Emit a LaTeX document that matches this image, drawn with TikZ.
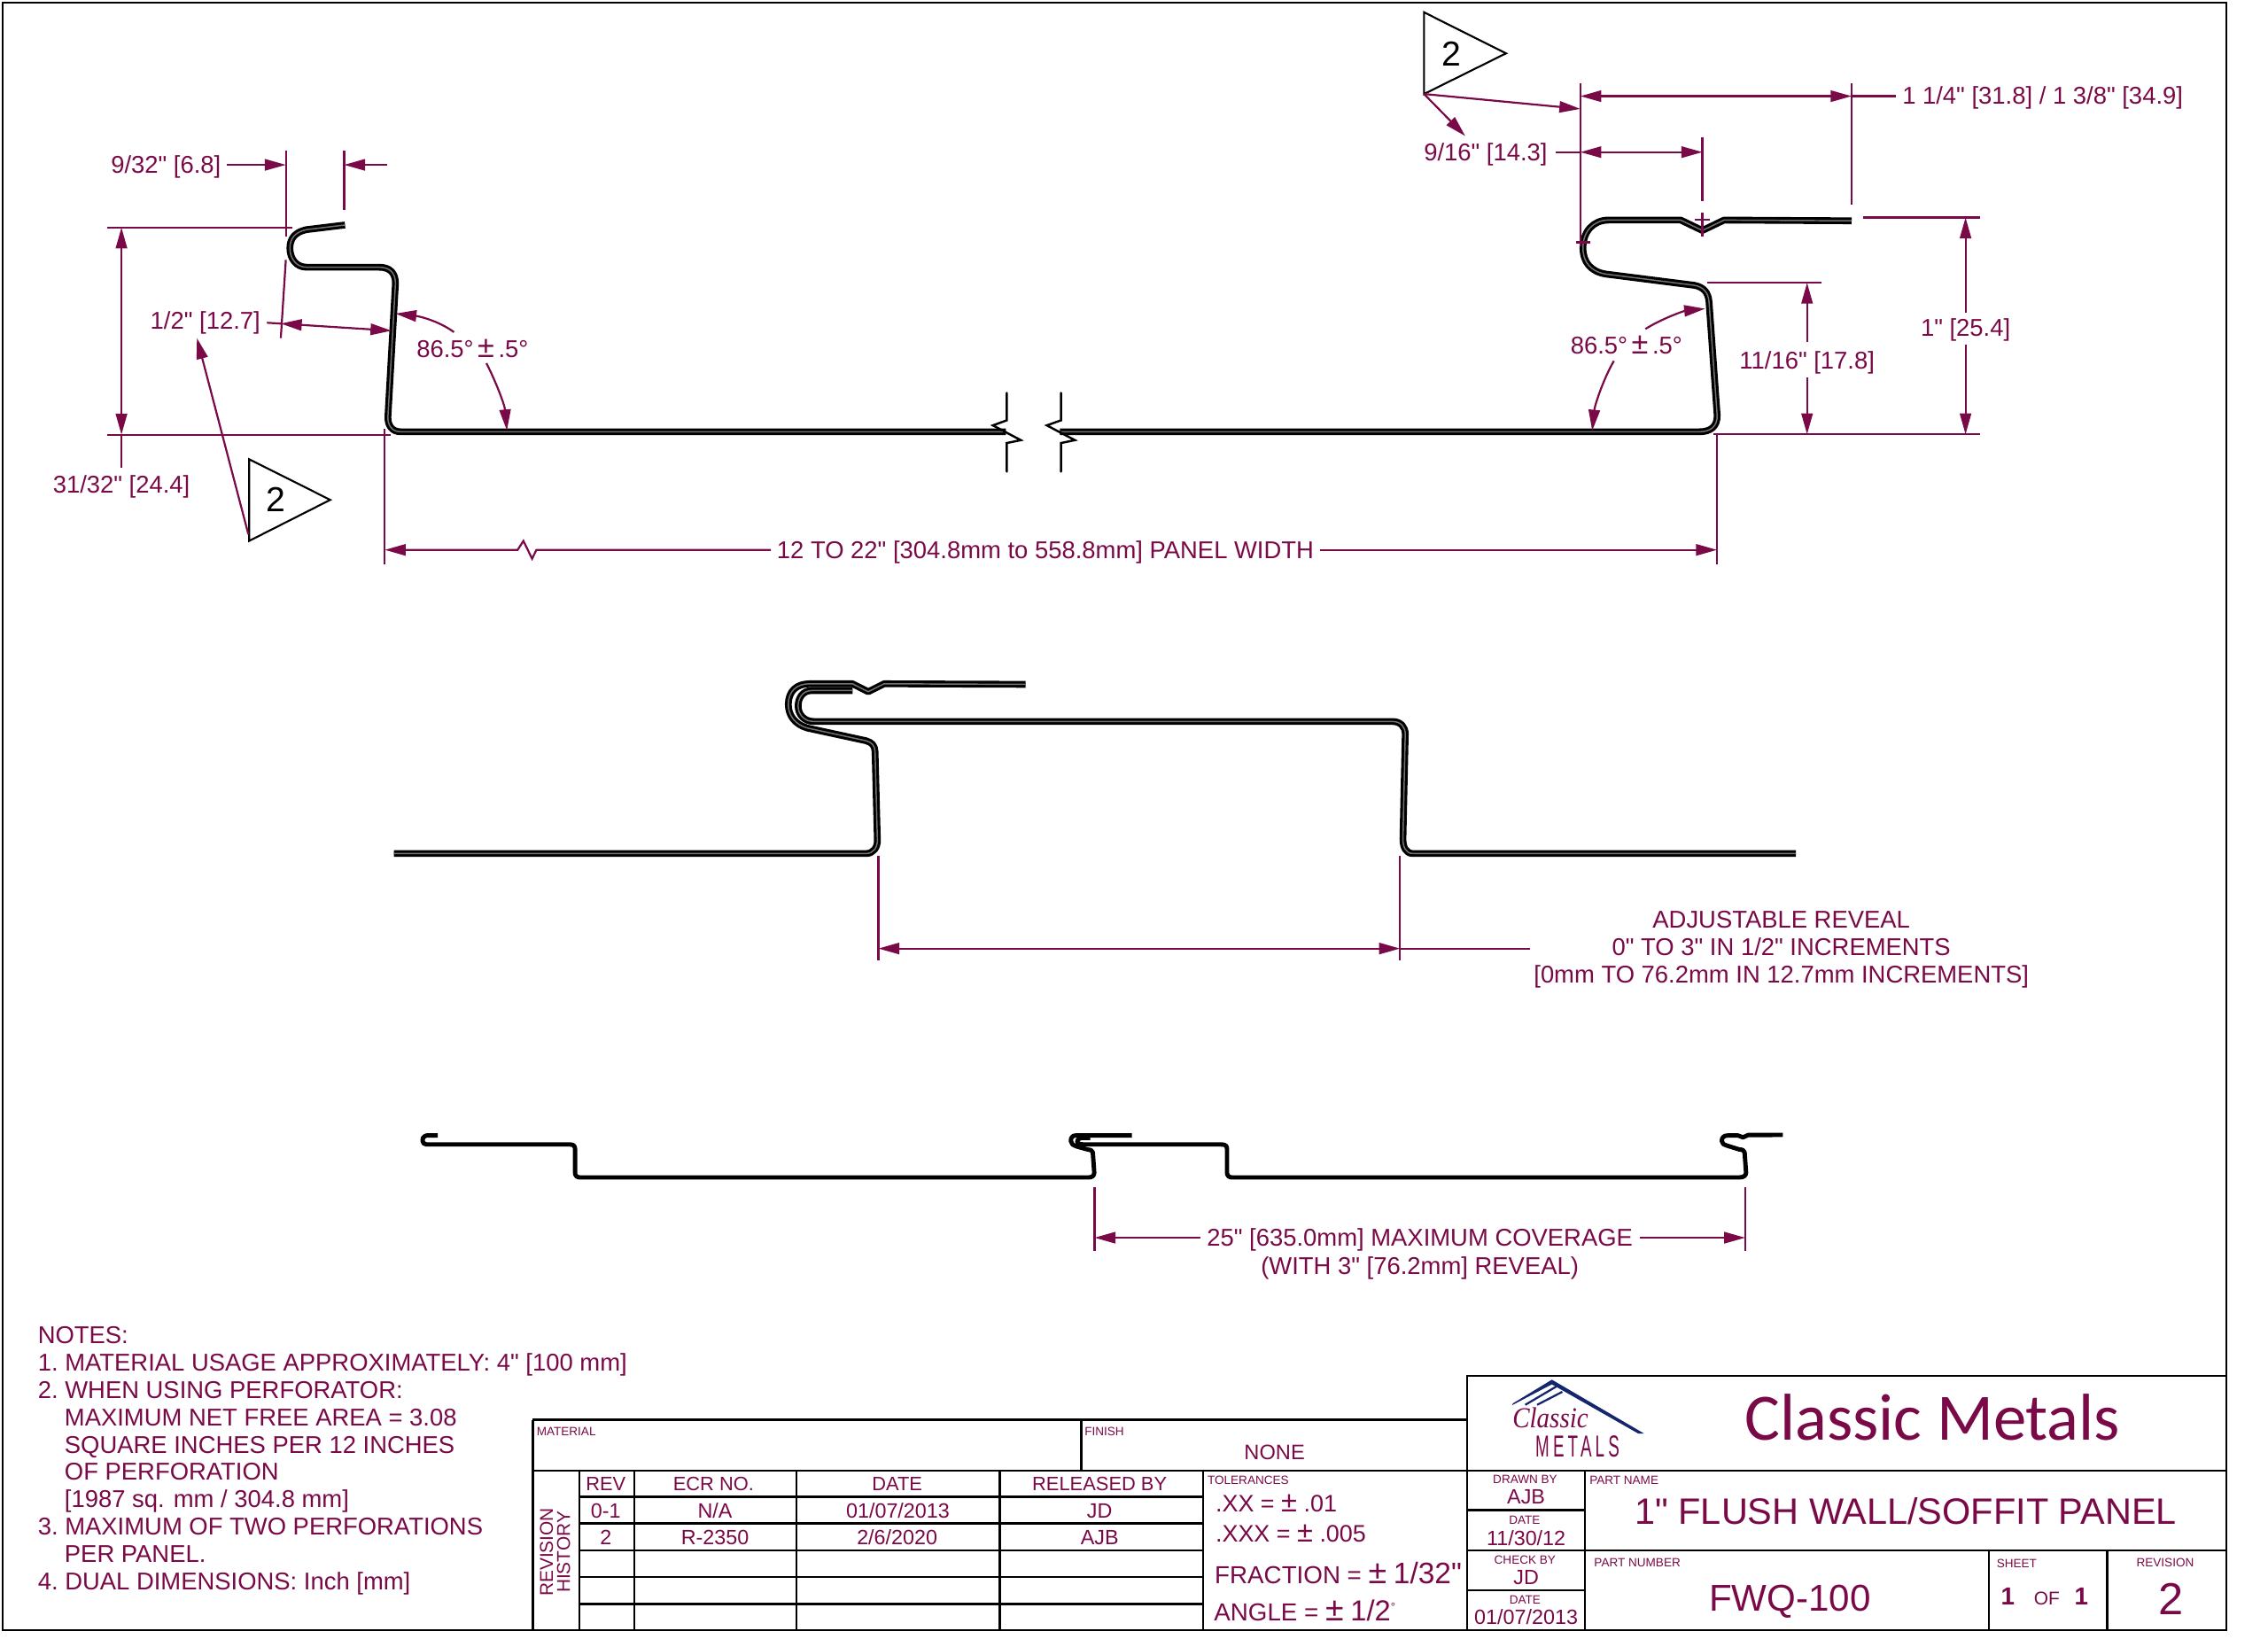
\documentclass[tikz,border=0pt]{standalone}
\usepackage{fontspec}
\usepackage{graphicx}
\newfontfamily\mainsans{Liberation Sans}
\newfontfamily\carlitofont{Carlito}
\newfontfamily\logoserif{Liberation Serif}
\newfontfamily\decofont[LetterSpace=22]{Liberation Sans}
\usetikzlibrary{arrows.meta}
\definecolor{maroon}{HTML}{7A0A47}
\definecolor{navy}{HTML}{14266E}
\newcommand{\rawsz}[1]{\fontsize{#1}{#1}\selectfont}
\newcommand{\fsz}[1]{\mainsans\fontsize{#1}{#1}\selectfont}
\newcommand{\bigpm}[1]{{\fsz{#1}±}}
\tikzset{
  sheetline/.style={draw=black,line width=1.5pt},
  panel/.style={draw=black,line width=4.7pt,line join=round,postaction={draw=black!55,line width=0.9pt}},
  thinpanel/.style={draw=black,line width=3pt,line join=round},
  breakmark/.style={draw=black,line width=1.5pt,line join=miter,line cap=round},
  dimline/.style={draw=maroon,line width=1.35pt},
  ar/.style={dimline,-{Triangle[length=14.5pt,width=7.8pt]}},
  arr/.style={dimline,{Triangle[length=14.5pt,width=7.8pt]}-{Triangle[length=14.5pt,width=7.8pt]}},
  lab/.style={text=maroon,inner sep=0pt,font=\fsz{16.8},text height=12pt,text depth=0pt},
  note/.style={lab,anchor=west},
  tb/.style={text=maroon,inner sep=0pt,font=\fsz{14.3}},
  tiny/.style={text=maroon,inner sep=0pt,font=\fsz{8.3}},
  rev/.style={text=black,inner sep=0pt,font=\fsz{24}},
  revmark/.style={draw=black,line width=1.3pt,fill=white,line join=miter},
}
\begin{document}
\begin{tikzpicture}[x=1pt,y=-1pt]
\useasboundingbox (0,0) rectangle (1568.6,1133.5);
\fill[white] (0,0) rectangle (1568.6,1133.5);
\draw[draw=black,line width=1.5pt] (2,2) rectangle (1539.8,1127.5);

% --- top panel
\draw[panel] (238.6,155.6) -- (212,158.8) .. controls (204,160.5) and (200.5,165) .. (200.5,171.6)
  .. controls (200.5,179) and (205,184.8) .. (212,184.8) -- (262,184.8)
  .. controls (270,184.8) and (273.5,189) .. (273.5,196) -- (268.3,288)
  .. controls (268,294) and (271,298.6) .. (277,298.6) -- (695.6,298.6);
\draw[panel] (733,298.6) -- (1175.5,298.6) .. controls (1183,298.6) and (1187.9,295) .. (1187.6,287)
  -- (1182,208.9) .. controls (1181.5,202) and (1178,198.5) .. (1171.8,197.3)
  -- (1111,189.6) .. controls (1100,188) and (1094.8,181) .. (1094.8,171.5)
  .. controls (1094.8,160) and (1102,152.2) .. (1112.5,152.2) -- (1162.4,152.2)
  -- (1177.4,159.4) -- (1192.4,152.2) -- (1280.6,152.7);
\draw[breakmark] (696.3,271.7) -- (696.3,290.7) -- (686.7,294.2) -- (706,304.4) -- (696.3,306.4) -- (696.3,326.2);
\draw[breakmark] (733.8,271.7) -- (733.8,290.7) -- (724,294.2) -- (743.4,304.4) -- (733.8,306.4) -- (733.8,326.2);

% --- left flange dimensions
\node[lab,anchor=east] (a932) at (153,114) {9/32" [6.8]};
\coordinate (a932t) at (197.7,114);
\draw[ar] ([xshift=4pt]a932.east) -- (a932t);
\draw[dimline] (197.7,104.2) -- (197.7,163.4);
\draw[dimline] (238,104.2) -- (238,145);
\draw[ar] (268,114) -- (238,114);
\draw[dimline] (197.7,179.7) -- (194.2,233.8);
\node[lab] (a12) at (142,221.6) {1/2" [12.7]};
\draw[dimline] (184.6,223.2) -- (194.2,223.8);
\draw[arr] (194.2,223.8) -- (270.8,228.7);
\draw[dimline] (74.4,157.3) -- (202.4,157.3);
\draw[dimline] (74.4,300.6) -- (270.2,300.6);
\draw[arr] (84,157.3) -- (84,300.6);
\draw[dimline] (84,300.6) -- (84,323.7);
\node[lab] (a3132) at (84,334.9) {31/32" [24.4]};
\node[lab] (ang1) at (326.8,241) {86.5°\,\bigpm{21}\,.5°};
\draw[ar] (314,229.7) .. controls (302,221) and (288,218.5) .. (273.5,216.9);
\draw[ar] (336.4,251.2) .. controls (343,264) and (349,280) .. (350.6,297.7);

\draw[revmark] (172.3,317.6) -- (228.4,345.7) -- (172.3,374.1) -- cycle;
\node[rev] (r1) at (190.9,345.7) {2};
\draw[ar] (171.8,369.6) -- (136.2,233.8);

% --- panel width
\draw[dimline] (266.1,296.5) -- (266.1,390);
\draw[dimline] (1187.5,300) -- (1187.5,390);
\node[lab] (width) at (723,380.3) {12 TO 22" [304.8mm to 558.8mm] PANEL WIDTH};
\draw[dimline,{Triangle[length=14.5pt,width=7.8pt]}-] (266.1,380.3) -- (358,380.3) -- (362,374.1) -- (368,386.4) -- (371,380.3) -- ([xshift=-4pt]width.west);
\draw[ar] ([xshift=4pt]width.east) -- (1187.5,380.3);

% --- right flange dimensions
\draw[revmark] (984.9,8.5) -- (1041.6,36.9) -- (984.9,65) -- cycle;
\node[rev] (r2) at (1003.7,37.4) {2};
\draw[ar] (984.9,65) -- (1093,75.3);
\draw[ar] (984.9,65) -- (1013.4,94.1);
\draw[dimline] (1093,57.3) -- (1093,170.2);
\draw[dimline] (1177.4,94.9) -- (1177.4,139.3);
\draw[dimline] (1280.6,57.3) -- (1280.6,141.8);
\draw[dimline] (1177.4,147) -- (1177.4,163.8);
\draw[dimline] (1172,152) -- (1182.5,152);
\draw[dimline] (1090,167.6) -- (1099.7,167.6);
\draw[arr] (1093,66.5) -- (1280.6,66.5);
\node[lab,anchor=west] (a114) at (1315.5,65.8) {1 1/4" [31.8] / 1 3/8" [34.9]};
\draw[dimline] (1280.6,66.5) -- ([xshift=-4.5pt]a114.west |- 1280.6,66.5);
\node[lab,anchor=east] (a916) at (1070.4,105.2) {9/16" [14.3]};
\draw[dimline] ([xshift=5.5pt]a916.east) -- (1093,105.2);
\draw[arr] (1093,105.2) -- (1177.4,105.2);
\draw[dimline] (1288.8,150.4) -- (1369.5,150.4);
\draw[dimline] (1184.9,300.4) -- (1369.5,300.4);
\draw[dimline] (1181,195.5) -- (1260,195.5);
\node[lab] (a1116) at (1249.8,248.9) {11/16" [17.8]};
\draw[ar] ([yshift=6pt]a1116.north) -- (1249.8,195.5);
\draw[ar] ([yshift=-6pt]a1116.south) -- (1249.8,300.4);
\node[lab] (a1) at (1359.4,226.4) {1" [25.4]};
\draw[ar] ([yshift=4pt]a1.north) -- (1359.4,150.4);
\draw[ar] ([yshift=-6pt]a1.south) -- (1359.4,300.4);
\node[lab] (ang2) at (1124.9,238.6) {86.5°\,\bigpm{21}\,.5°};
\draw[ar] (1138,227.5) .. controls (1150,220) and (1165,215) .. (1179.3,213.5);
\draw[ar] (1116.2,249.6) .. controls (1109,262) and (1103,280) .. (1101.2,297.9);

% --- middle section
\draw[panel] (272.5,590.3) -- (599,590.3) .. controls (604,590.3) and (607,586) .. (606.8,581)
  -- (605.2,519.8) .. controls (605,515.5) and (603,513.5) .. (599,512.3)
  -- (558.3,503.5) .. controls (550,501) and (545.2,495) .. (545.2,487.2)
  .. controls (545.2,478) and (551,472.9) .. (559.9,472.9) -- (589.6,472.9)
  -- (600.5,478.4) -- (611.5,472.9) -- (709.3,473.3);
\draw[panel] (589.6,477.6) -- (561.4,477.6) .. controls (555,477.6) and (552,483) .. (552,488.2)
  .. controls (552,494) and (556,499) .. (563,499) -- (963.1,499)
  .. controls (969,499) and (971.9,503) .. (971.9,507.6) -- (970.3,580)
  .. controls (970.2,586) and (972.5,590.3) .. (977.2,590.3) -- (1242,590.3);
\draw[dimline] (607.5,592) -- (607.5,664);
\draw[dimline] (968.3,592) -- (968.3,664);
\draw[arr] (607.5,656) -- (968.3,656);
\draw[dimline] (968.3,656) -- (1058,656);
\node[lab] (rev1) at (1232,636) {ADJUSTABLE REVEAL};
\node[lab] (rev2) at (1232,655) {0" TO 3" IN 1/2" INCREMENTS};
\node[lab] (rev3) at (1232,674) {[0mm TO 76.2mm IN 12.7mm INCREMENTS]};

% --- bottom section
\draw[thinpanel] (302.8,785.3) -- (295,785.3) .. controls (292.5,786) and (292.2,787.5) .. (292.2,788.8)
  .. controls (292.2,790.5) and (293.5,791.5) .. (295,791.5) -- (394,791.5)
  .. controls (396.5,791.5) and (397.7,792.5) .. (397.7,794.5) -- (397.7,811)
  .. controls (397.7,813) and (399,814.3) .. (401,814.3) -- (753,814.3)
  .. controls (755.5,814.3) and (756.8,813) .. (756.8,811) -- (755.8,797)
  .. controls (755.5,795.5) and (754,795) .. (752.3,795) -- (745,793)
  .. controls (742,792) and (740.6,791) .. (740.6,789)
  .. controls (740.6,786.5) and (742,785.3) .. (744,785.3) -- (782.8,785.3);
\draw[thinpanel] (754,787) -- (748,787) .. controls (745.5,787.5) and (744.5,789) .. (745,790)
  .. controls (745.5,791) and (747,791.5) .. (749,791.5) -- (844.5,791.5)
  .. controls (847.5,791.5) and (848.6,792.5) .. (848.6,794.5) -- (848.6,811)
  .. controls (848.6,813) and (850,814.3) .. (852,814.3) -- (1203,814.3)
  .. controls (1206,814.3) and (1207.6,813) .. (1207.6,811) -- (1206.6,797)
  .. controls (1206.3,795.5) and (1205,795) .. (1203,795) -- (1195,792.5)
  .. controls (1192,791.5) and (1190.8,791) .. (1190.8,789)
  .. controls (1190.8,786.5) and (1192.5,785.3) .. (1195,785.3) -- (1202,785.3)
  -- (1205.5,786.6) -- (1209,785) -- (1233,784.9);
\draw[dimline] (757,821) -- (757,865);
\draw[dimline] (1207,821) -- (1207,865);
\node[lab] (cov1) at (982,856) {25" [635.0mm] MAXIMUM COVERAGE};
\node[lab] (cov2) at (982,875.5) {(WITH 3" [76.2mm] REVEAL)};
\draw[ar] ([xshift=-4.5pt]cov1.west) -- (757,856);
\draw[ar] ([xshift=4.5pt]cov1.east) -- (1207,856);

% --- notes
\node[note] (n0) at (26,923.5) {NOTES:};
\node[note] (n1) at (26,942.3) {1.\hspace{-1.5pt} MATERIAL USAGE APPROXIMATELY: 4" [100 mm]};
\node[note] (n2) at (26,961.2) {2.\hspace{-1.5pt} WHEN USING PERFORATOR:};
\node[note] (n3) at (44.5,980) {MAXIMUM NET FREE AREA = 3.08};
\node[note] (n4) at (44.5,999) {SQUARE INCHES PER 12 INCHES};
\node[note] (n5) at (44.5,1017.8) {OF PERFORATION};
\node[note] (n6) at (44.5,1036.8) {[1987 sq. mm / 304.8 mm]};
\node[note] (n7) at (26,1055.5) {3.\hspace{-1.5pt} MAXIMUM OF TWO PERFORATIONS};
\node[note] (n8) at (44.5,1074.4) {PER PANEL.};
\node[note] (n9) at (26,1093.4) {4.\hspace{-1.5pt} DUAL DIMENSIONS: Inch [mm]};

% --- revision table
\draw[sheetline] (368.5,982) -- (1015,982);
\draw[sheetline] (368.5,982) -- (368.5,1127.5);
\draw[sheetline] (368.5,1017.2) -- (1015,1017.2);
\draw[sheetline] (747.7,982) -- (747.7,1017.2);
\foreach \x in {400.7,438.6,550.8,691.4,832} \draw[sheetline] (\x,1017.2) -- (\x,1127.5);
\foreach \y in {1035.1,1053.5,1072.3,1090.7,1109.4} \draw[sheetline] (400.7,\y) -- (832,\y);
\node[tiny,anchor=west] (mat) at (371,990.3) {MATERIAL};
\node[tiny,anchor=west] (fin) at (750,990.3) {FINISH};
\node[tb,font=\fsz{14.5}] (none) at (881.5,1004.5) {NONE};
\node[tb,font=\fsz{13.4}] (h1) at (419,1026.5) {REV};
\node[tb,font=\fsz{13.4}] (h2) at (493.5,1026.5) {ECR NO.};
\node[tb,font=\fsz{13.4}] (h3) at (620.5,1026.5) {DATE};
\node[tb,font=\fsz{13.4}] (h4) at (760.5,1026.5) {RELEASED BY};
\node[tb] (c11) at (419,1044.8) {0-1};
\node[tb] (c12) at (494.5,1044.8) {N/A};
\node[tb] (c13) at (621,1044.8) {01/07/2013};
\node[tb] (c14) at (760.5,1044.8) {JD};
\node[tb] (c21) at (419,1063.4) {2};
\node[tb] (c22) at (494.5,1063.4) {R-2350};
\node[tb] (c23) at (620.5,1063.4) {2/6/2020};
\node[tb] (c24) at (760.5,1063.4) {AJB};
\node[tb,font=\fsz{12.8},rotate=90] (rh1) at (378,1073.4) {REVISION};
\node[tb,font=\fsz{12.8},rotate=90] (rh2) at (389.8,1073.4) {HISTORY};
\node[tiny,anchor=west] (tol) at (835,1023.5) {TOLERANCES};
\node[tb,font=\fsz{16.5},anchor=west] (t1) at (840.5,1040) {.XX = \bigpm{20} .01};
\node[tb,font=\fsz{16.5},anchor=west] (t2) at (840.5,1060.5) {.XXX = \bigpm{20} .005};
\node[tb,font=\fsz{17},anchor=west] (t3) at (840,1088) {FRACTION = \bigpm{23} {\fsz{20.5}1/32"}};
\node[tb,font=\fsz{17},anchor=west] (t4) at (839.5,1114) {ANGLE = \bigpm{23} {\fsz{20}1/2}\raisebox{7pt}{\fsz{8}°}};

% --- title block
\draw[sheetline] (1014.6,951.4) rectangle (1539.8,1127.5);
\draw[sheetline] (1014.6,1017.2) -- (1539.8,1017.2);
\draw[sheetline] (1014.6,1072.3) -- (1539.8,1072.3);
\draw[sheetline] (1096.3,1017.2) -- (1096.3,1127.5);
\draw[sheetline] (1014.6,1044.3) -- (1096.3,1044.3);
\draw[sheetline] (1014.6,1099.9) -- (1096.3,1099.9);
\draw[sheetline] (1375.5,1072.3) -- (1375.5,1127.5);
\draw[sheetline] (1457.3,1072.3) -- (1457.3,1127.5);

% logo
\fill[navy] (1073.3,954.2) -- (1137,991.4) -- (1133,991.4) -- (1073.3,957.4) -- (1045.7,971.9) -- (1046.5,970.5) -- cycle;
\draw[navy,line width=1.4pt] (1054.9,971.6) -- (1076.4,958.9);
\draw[navy,line width=1.4pt] (1063.1,971.6) -- (1080.5,962.6);
\node[text=maroon,inner sep=0pt,font=\logoserif\itshape\rawsz{20}] (lg1) at (1072.3,980.6) {\scalebox{0.89}[1]{Classic}};
\node[text=maroon,inner sep=0pt,font=\decofont\rawsz{21},text depth=0pt] (lg2) at (1091,1000) {\scalebox{0.55}[1]{METALS}};
\node[text=maroon,inner sep=0pt,font=\carlitofont\rawsz{45.8}] (brand) at (1336.5,980.5) {Classic Metals};

\node[tiny] (dby) at (1054.8,1023.3) {DRAWN BY};
\node[tb] (dbyv) at (1055.5,1035.2) {AJB};
\node[tiny] (dd1) at (1054.4,1051.3) {DATE};
\node[tb] (ddv1) at (1055.5,1063.5) {11/30/12};
\node[tiny] (cby) at (1054.7,1078.9) {CHECK BY};
\node[tb] (cbyv) at (1055.5,1091) {JD};
\node[tiny] (dd2) at (1054.7,1106.6) {DATE};
\node[tb] (ddv2) at (1055.5,1118.3) {01/07/2013};
\node[tiny,anchor=west] (pn) at (1099.2,1023.7) {PART NAME};
\node[tb,font=\fsz{25.4}] (pnv) at (1318,1045.2) {1" FLUSH WALL/SOFFIT PANEL};
\node[tiny,anchor=west] (pno) at (1102.4,1080.9) {PART NUMBER};
\node[tb,font=\fsz{25.8}] (pnov) at (1237.9,1107.5) {FWQ-100};
\node[tiny,anchor=west] (sh) at (1380.8,1081.5) {SHEET};
\node[tb,font=\bfseries\fsz{17}] (s1) at (1388.6,1104.4) {1};
\node[tb,font=\fsz{12.8}] (s2) at (1415.7,1105.5) {OF};
\node[tb,font=\bfseries\fsz{17}] (s3) at (1439.5,1104.4) {1};
\node[tiny] (rv) at (1497.5,1080.5) {REVISION};
\node[tb,font=\fsz{31}] (rvv) at (1501.5,1106) {2};
\end{tikzpicture}
\end{document}
